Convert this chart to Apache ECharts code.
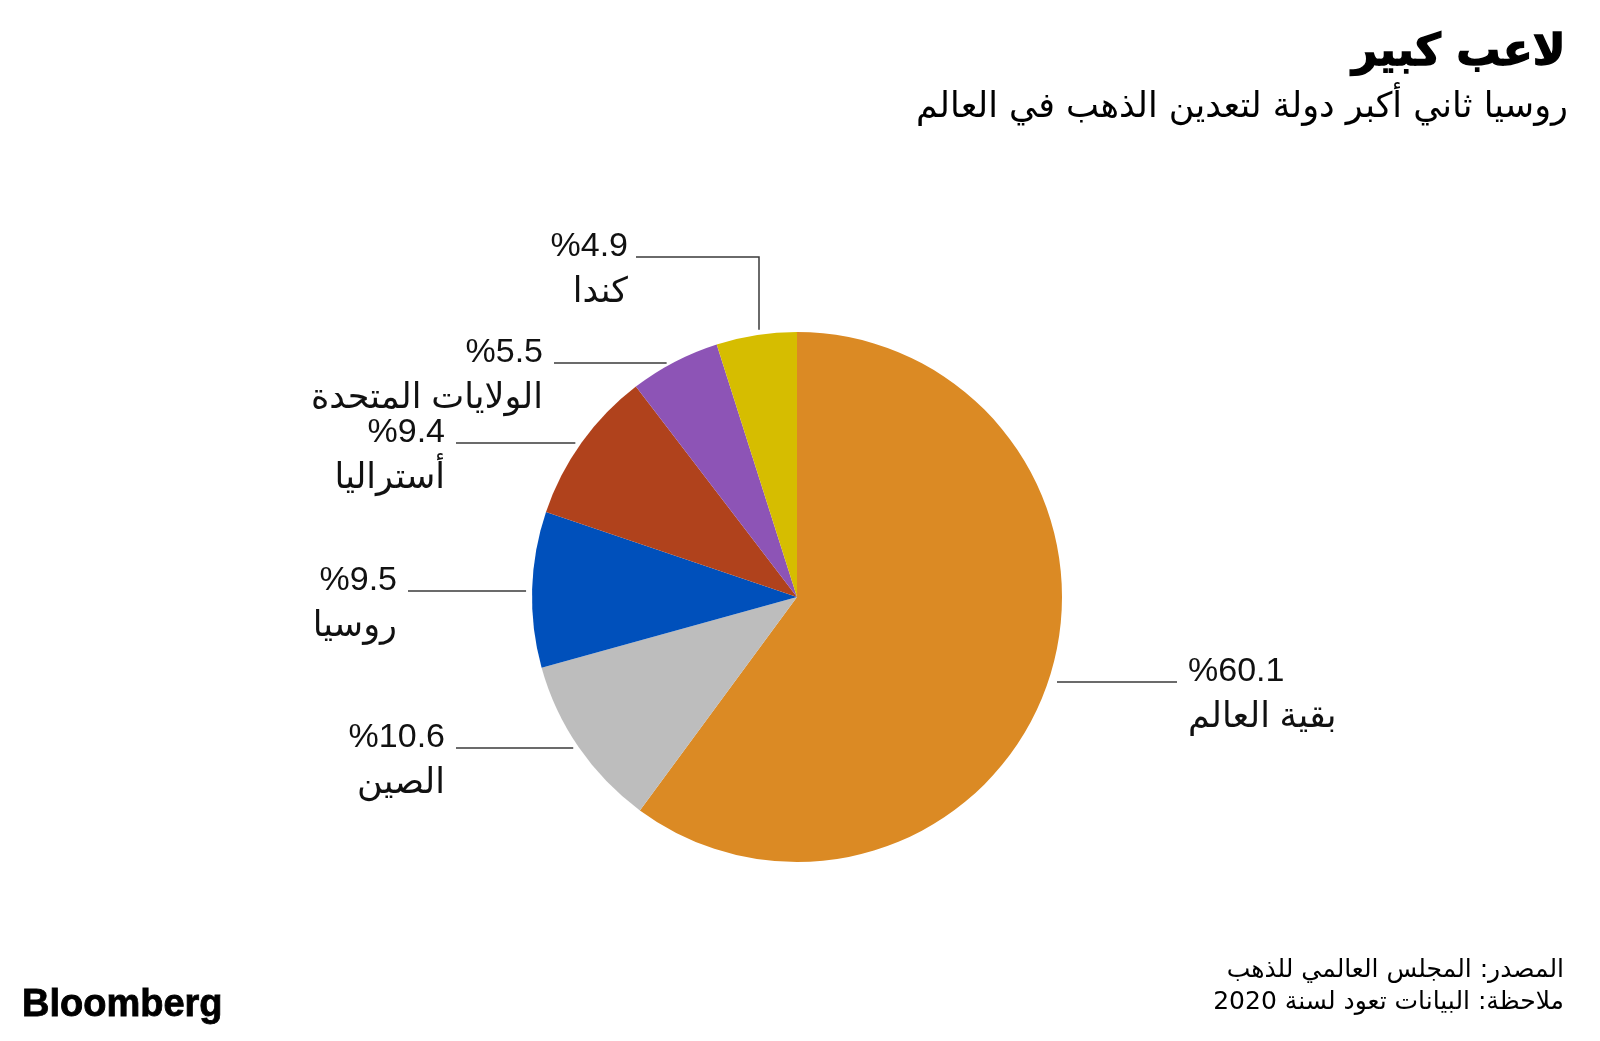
<!DOCTYPE html>
<html><head><meta charset="utf-8">
<script src="https://cdn.jsdelivr.net/npm/echarts@6/dist/echarts.min.js"></script>
<style>html,body{margin:0;padding:0;background:#fff}#c{width:1600px;height:1041px}</style>
</head><body><div id="c"></div>
<script>
// ---- data ----
const countries = ['بقية العالم', 'الصين', 'روسيا', 'أستراليا', 'الولايات المتحدة', 'كندا'];
const shares = [60.1, 10.6, 9.5, 9.4, 5.5, 4.9];
const shareLabels = ['%60.1', '%10.6', '%9.5', '%9.4', '%5.5', '%4.9'];
const sliceColors = ['#DB8A24', '#BDBDBD', '#0050BB', '#B0421C', '#8D54B6', '#D6BD00'];
const titleText = 'لاعب كبير';
const subtitleText = 'روسيا ثاني أكبر دولة لتعدين الذهب في العالم';
const sourceText = 'المصدر: المجلس العالمي للذهب';
const noteText = 'ملاحظة: البيانات تعود لسنة 2020';

// ---- layout (styles / positions) ----
const CX = 797, CY = 597, R = 265;
const labelPos = [
  { side: 'right', x: 1188, y: 682 },
  { side: 'left', x: 445, y: 748 },
  { side: 'left', x: 397, y: 591 },
  { side: 'left', x: 445, y: 443 },
  { side: 'left', x: 543, y: 363 },
  { side: 'left', x: 628, y: 257, elbow: true }
];
const LABEL_FONT = '"Liberation Sans", "DejaVu Sans", sans-serif';
const BASE_OFF = 28;

const chart = echarts.init(document.getElementById('c'), null, { renderer: 'canvas' });

const data = countries.map((n, i) => ({
  name: n, value: shares[i], pct: shareLabels[i],
  itemStyle: { color: sliceColors[i] }
}));

function edgeX(y, side) {
  const dy = y - CY;
  const dx = Math.sqrt(Math.max(R * R - dy * dy, 0));
  return side === 'left' ? CX - dx : CX + dx;
}

chart.setOption({
  backgroundColor: '#ffffff',
  animation: false,
  title: [
    { text: titleText, right: 28, top: 27, textStyle: { fontFamily: '"DejaVu Sans", sans-serif', fontWeight: 'bold', fontSize: 44, color: '#000', textBorderColor: '#000', textBorderWidth: 1.4 } },
    { text: subtitleText, right: 27, top: 85, textStyle: { fontFamily: '"DejaVu Sans", sans-serif', fontWeight: 'normal', fontSize: 35, color: '#000' } },
    { text: sourceText, right: 31, top: 953, textStyle: { fontFamily: '"DejaVu Sans", sans-serif', fontWeight: 'normal', fontSize: 25, color: '#000' } },
    { text: noteText, right: 31, top: 985, textStyle: { fontFamily: '"DejaVu Sans", sans-serif', fontWeight: 'normal', fontSize: 25, color: '#000' } },
    { text: 'Bloomberg', left: 17, top: 982, textStyle: { fontFamily: '"Liberation Sans", Arial, sans-serif', fontWeight: 'bold', fontSize: 38, color: '#000', textBorderColor: '#000', textBorderWidth: 0.8 } }
  ],
  series: [{
    type: 'pie',
    center: [CX, CY],
    radius: R,
    startAngle: 90,
    clockwise: true,
    avoidLabelOverlap: false,
    silent: true,
    data: data,
    label: {
      show: true,
      position: 'outside',
      formatter: p => '{p|' + p.data.pct + '}\n{n|' + p.name + '}',
      rich: {
        p: { fontFamily: LABEL_FONT, fontSize: 34, lineHeight: 36, color: '#111' },
        n: { fontFamily: LABEL_FONT, fontSize: 35, lineHeight: 54, color: '#111' }
      }
    },
    labelLine: { show: true, lineStyle: { color: '#3a3a3a', width: 1.5 } },
    labelLayout: function (params) {
      const lp = labelPos[params.dataIndex];
      let pts;
      if (lp.elbow) {
        const vx = 759;
        const topY = CY - Math.sqrt(R * R - (vx - CX) * (vx - CX)) - 5;
        pts = [[vx, topY], [vx, lp.y], [lp.x + 8, lp.y]];
      } else if (lp.side === 'left') {
        const ex = edgeX(lp.y, 'left') - 6;
        pts = [[ex, lp.y], [ex, lp.y], [lp.x + 11, lp.y]];
      } else {
        const ex = edgeX(lp.y, 'right') + 9;
        pts = [[ex, lp.y], [ex, lp.y], [lp.x - 11, lp.y]];
      }
      return {
        x: lp.x,
        y: lp.y - BASE_OFF,
        align: lp.side === 'left' ? 'right' : 'left',
        verticalAlign: 'top',
        labelLinePoints: pts
      };
    }
  }]
});
</script>
</body></html>
